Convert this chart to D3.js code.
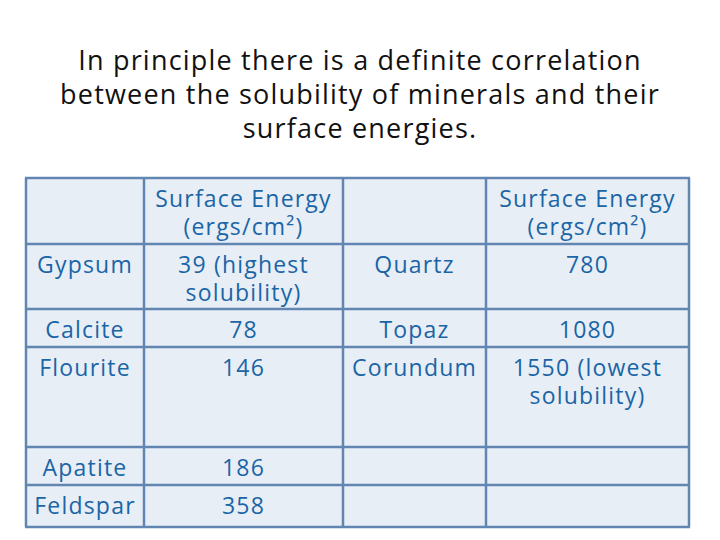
<!DOCTYPE html>
<html><head><meta charset="utf-8">
<script src="https://cdn.jsdelivr.net/npm/d3@7"></script>
<style>body{margin:0;background:#fff}</style></head>
<body><svg id="c" width="720" height="540"></svg>
<script>
const titleLines = ["In principle there is a definite correlation","between the solubility of minerals and their","surface energies."];
const header = ["", "Surface Energy\n(ergs/cm²)", "", "Surface Energy\n(ergs/cm²)"];
const mineralsA = ["Gypsum","Calcite","Flourite","Apatite","Feldspar"];
const energiesA = ["39 (highest\nsolubility)","78","146","186","358"];
const mineralsB = ["Quartz","Topaz","Corundum","",""];
const energiesB = ["780","1080","1550 (lowest\nsolubility)","",""];

const colEdges = [26,144,343,486,689];
const rowEdges = [178,244,309,347,447,485,527];
const font = "'Open Sans', 'DejaVu Sans', sans-serif";
const svg = d3.select("#c");

svg.selectAll("text.t").data(titleLines).join("text")
  .attr("x",360).attr("y",(d,i)=>70+i*34).attr("text-anchor","middle")
  .attr("font-family",font).attr("font-size",27).attr("letter-spacing",1.2)
  .attr("fill","#111").text(d=>d);

const rows = [header].concat(mineralsA.map((m,i)=>[m,energiesA[i],mineralsB[i],energiesB[i]]));
const cells = [];
rows.forEach((r,ri)=>r.forEach((t,ci)=>cells.push({ri,ci,t})));

svg.append("rect").attr("x",colEdges[0]).attr("y",rowEdges[0])
  .attr("width",colEdges[4]-colEdges[0]).attr("height",rowEdges[6]-rowEdges[0])
  .attr("fill","#e8eef6");

const g = svg.append("g");
g.selectAll("line.v").data(colEdges).join("line")
  .attr("x1",d=>d).attr("x2",d=>d).attr("y1",rowEdges[0]).attr("y2",rowEdges[6])
  .attr("stroke","#6186b2").attr("stroke-width",2.5);
g.selectAll("line.h").data(rowEdges).join("line")
  .attr("y1",d=>d).attr("y2",d=>d).attr("x1",colEdges[0]-1).attr("x2",colEdges[4]+1)
  .attr("stroke","#6186b2").attr("stroke-width",2.5);

const tx = svg.selectAll("text.cell").data(cells).join("text")
  .attr("text-anchor","middle").attr("font-family",font).attr("font-size",23)
  .attr("letter-spacing",1.2).attr("font-weight",500)
  .attr("fill","#1a65a6");
tx.each(function(d){
  const cx=(colEdges[d.ci]+colEdges[d.ci+1])/2;
  const top=rowEdges[d.ri];
  d3.select(this).selectAll("tspan").data(d.t.split("\n")).join("tspan")
    .attr("x",cx).attr("y",(s,i)=>top+29+i*28).text(s=>s);
});
</script></body></html>
